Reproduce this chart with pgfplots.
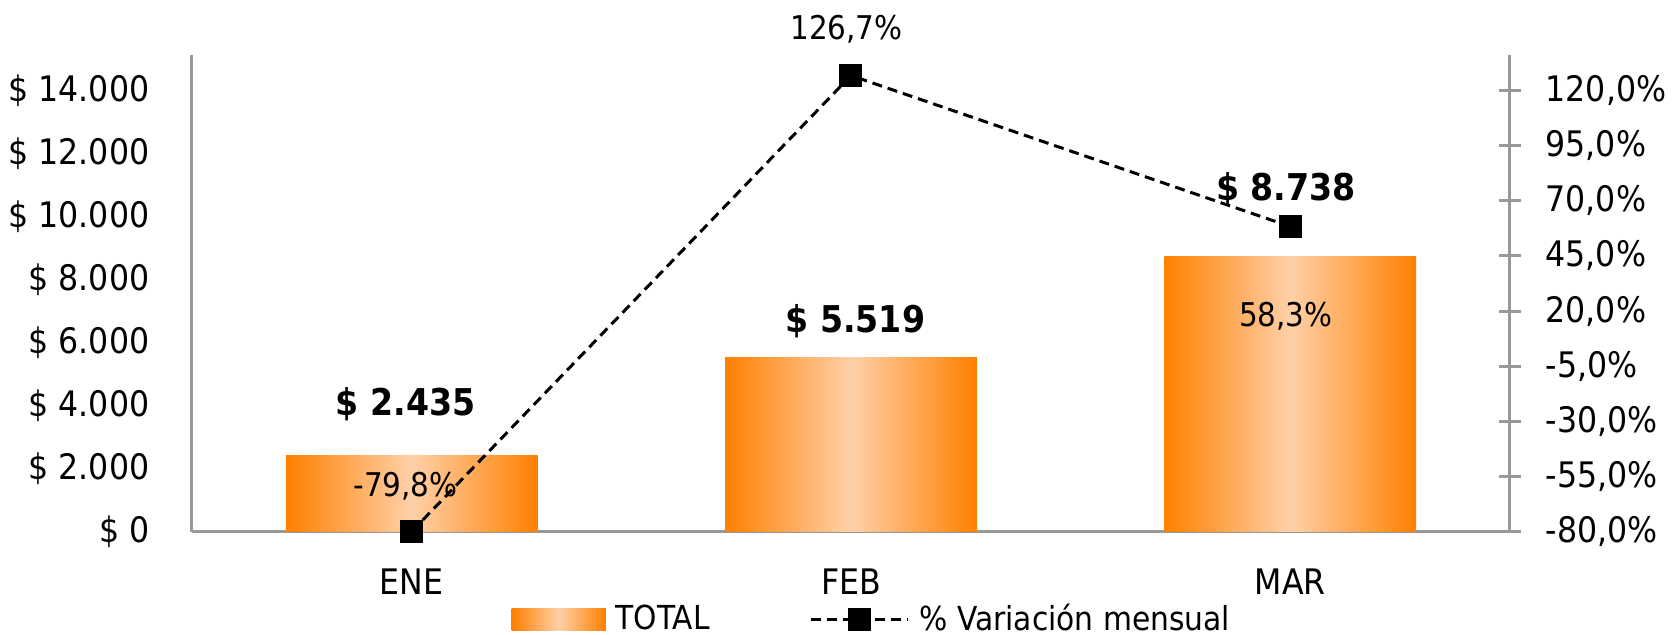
\documentclass[border=0pt]{standalone}
\usepackage{fontspec}
\setmainfont{DejaVu Sans Condensed}
\usepackage{pgfplots}
\pgfplotsset{compat=1.18}
\definecolor{orA}{RGB}{255,128,0}
\definecolor{orB}{RGB}{255,208,168}
\definecolor{axgray}{RGB}{153,153,153}
\newcommand\fs[1]{\fontsize{#1}{#1}\selectfont}
\pgfplotsset{
  linelegend/.style={legend image code/.code={\draw[mark repeat=2,mark phase=2,##1] plot coordinates {(0cm,0cm) (0.485cm,0cm) (0.97cm,0cm)};}},
  barlegend/.style={legend image code/.code={\path[left color=orA,right color=orA,middle color=orB] (0cm,-0.11cm) rectangle (0.94cm,0.11cm);}},
  orbar/.style={ybar, bar width=0.573, bar shift=0pt, draw=none,
    left color=orA, right color=orA, middle color=orB, barlegend},
}
\begin{document}
\begin{tikzpicture}
\begin{axis}[
  at={(0,0)}, anchor=south west,
  scale only axis, width=13.18cm, height=4.77cm,
  xmin=-0.5, xmax=2.5, ymin=0, ymax=15120,
  axis x line*=bottom, axis y line*=left,
  axis line style={axgray, line width=0.03cm, -},
  xtick={0,1,2}, xticklabels={ENE,FEB,MAR},
  ytick={0,2000,...,14000}, scaled y ticks=false,
  yticklabels={\$ 0,\$ 2.000,\$ 4.000,\$ 6.000,\$ 8.000,\$ 10.000,\$ 12.000,\$ 14.000},
  major tick length=0pt, tick style={draw=none},
  yticklabel style={font=\fs{10pt}, anchor=east, inner sep=0pt, xshift=-0.42cm},
  xticklabel style={font=\fs{10pt}, anchor=north, inner sep=0pt, yshift=-0.36cm},
  clip=false,
  legend columns=2,
  legend style={at={(0.517,-0.184)}, anchor=center, draw=none, fill=none,
    font=\fs{9.4pt}, inner sep=0pt, nodes={inner sep=0.05cm},
    /tikz/every odd column/.append style={column sep=0.05cm},
    /tikz/every even column/.append style={column sep=0.95cm}},
]
\addplot[orbar] coordinates {(0,2435)};
\addlegendentry{TOTAL}
\addplot[orbar, forget plot] coordinates {(1,5519)};
\addplot[orbar, forget plot] coordinates {(2,8738)};
\addlegendimage{black, line width=0.03cm, dash pattern=on 0.1cm off 0.06cm,
  mark=square*, mark size=0.1cm, mark options={solid}, linelegend}
\addlegendentry{\% Variación mensual}
\node[font=\bfseries\fs{10.5pt}] at (axis cs:-0.014,4063) {\$ 2.435};
\node[font=\bfseries\fs{10.5pt}] at (axis cs:1.01,6698) {\$ 5.519};
\node[font=\bfseries\fs{10.5pt}] at (axis cs:1.99,10857) {\$ 8.738};
\end{axis}
\begin{axis}[
  at={(0,0)}, anchor=south west,
  scale only axis, width=13.18cm, height=4.77cm,
  xmin=-0.5, xmax=2.5, ymin=-80, ymax=136,
  axis y line*=right, axis x line=none,
  axis line style={axgray, line width=0.03cm, -},
  ytick={-80,-55,...,120},
  yticklabels={{-80,0\%},{-55,0\%},{-30,0\%},{-5,0\%},{20,0\%},{45,0\%},{70,0\%},{95,0\%},{120,0\%}},
  tick align=center, major tick length=0.22cm,
  ytick style={axgray, line width=0.03cm},
  yticklabel style={font=\fs{10pt}, anchor=west, inner sep=0pt, xshift=0.24cm},
  clip=false,
]
\addplot[black, line width=0.03cm, dash pattern=on 0.1cm off 0.06cm,
  mark=square*, mark size=0.1cm, mark options={solid}]
  coordinates {(0,-79.8) (1,126.7) (2,58.3)};
\node[font=\fs{9.3pt}] at (axis cs:-0.014,-59.1) {-79,8\%};
\node[font=\fs{9.3pt}] at (axis cs:0.99,147.7) {126,7\%};
\node[font=\fs{9.3pt}] at (axis cs:1.99,17.5) {58,3\%};
\end{axis}
\pgfresetboundingbox
\path (-1.92cm,-1.03cm) rectangle (14.84cm,5.32cm);
\end{tikzpicture}
\end{document}
